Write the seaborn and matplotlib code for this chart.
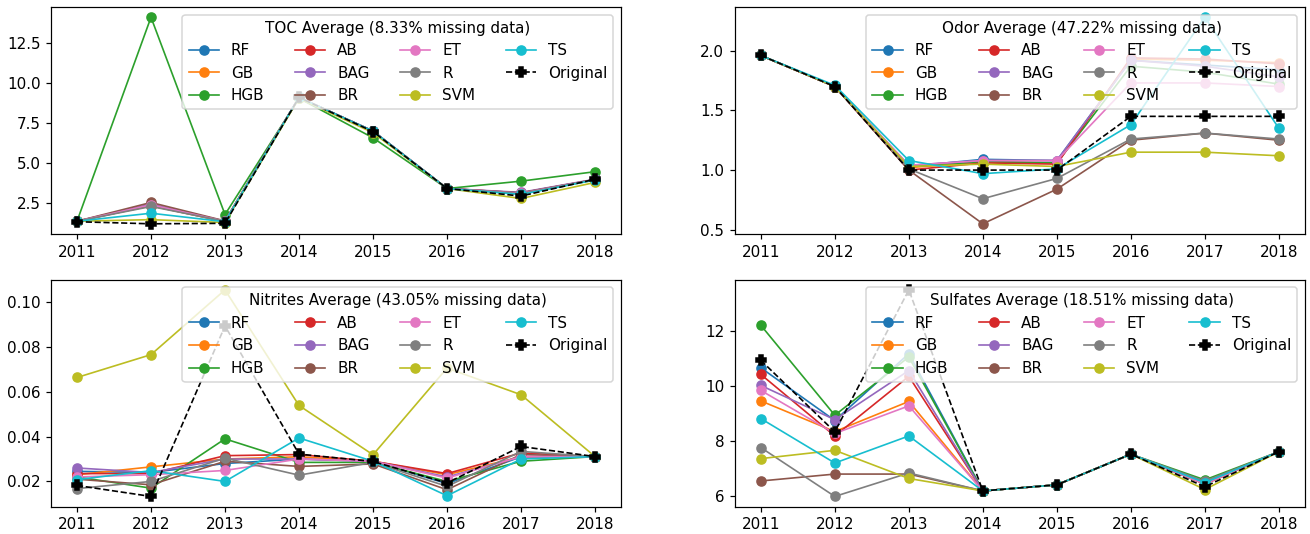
import matplotlib
matplotlib.use("Agg")
import matplotlib.pyplot as plt
from matplotlib.ticker import MultipleLocator
import seaborn as sns

years = [2011, 2012, 2013, 2014, 2015, 2016, 2017, 2018]
models = ["RF", "GB", "HGB", "AB", "BAG", "BR", "ET", "R", "SVM", "TS"]
palette = sns.color_palette("tab10", 10)

# TOC averages per imputation model
toc_rf = [1.38, 2.35, 1.35, 9.10, 7.00, 3.42, 3.12, 3.98]
toc_gb = [1.38, 2.35, 1.35, 9.10, 6.95, 3.42, 3.10, 3.95]
toc_hgb = [1.38, 14.10, 1.80, 9.05, 6.58, 3.42, 3.88, 4.47]
toc_ab = [1.38, 2.40, 1.38, 9.10, 7.00, 3.42, 3.15, 3.98]
toc_bag = [1.38, 2.45, 1.38, 9.10, 7.00, 3.42, 3.18, 4.00]
toc_br = [1.38, 2.55, 1.40, 9.10, 7.00, 3.42, 3.15, 3.98]
toc_et = [1.38, 2.40, 1.38, 9.10, 7.00, 3.42, 3.12, 3.98]
toc_r = [1.38, 2.30, 1.38, 9.10, 7.00, 3.42, 3.10, 3.98]
toc_svm = [1.38, 1.48, 1.30, 9.05, 6.90, 3.42, 2.80, 3.80]
toc_ts = [1.38, 1.88, 1.35, 9.10, 7.00, 3.42, 3.05, 3.95]
toc_orig = [1.35, 1.22, 1.25, 9.10, 6.97, 3.42, 2.95, 4.00]

# Odor averages
odor_rf = [1.96, 1.70, 1.03, 1.09, 1.08, 1.92, 1.88, 1.84]
odor_gb = [1.96, 1.70, 1.02, 1.07, 1.06, 1.93, 1.92, 1.90]
odor_hgb = [1.96, 1.70, 1.03, 1.07, 1.06, 1.87, 1.82, 1.72]
odor_ab = [1.96, 1.70, 1.00, 1.06, 1.05, 1.94, 1.93, 1.89]
odor_bag = [1.96, 1.70, 1.04, 1.08, 1.08, 1.92, 1.87, 1.78]
odor_br = [1.96, 1.70, 1.00, 0.55, 0.84, 1.25, 1.31, 1.25]
odor_et = [1.96, 1.70, 1.04, 1.08, 1.08, 1.73, 1.73, 1.70]
odor_r = [1.96, 1.70, 1.01, 0.76, 0.93, 1.26, 1.31, 1.26]
odor_svm = [1.96, 1.70, 1.03, 1.05, 1.03, 1.15, 1.15, 1.12]
odor_ts = [1.96, 1.71, 1.08, 0.97, 1.01, 1.38, 2.28, 1.35]
odor_orig = [1.96, 1.70, 1.00, 1.00, 1.00, 1.45, 1.45, 1.45]

# Nitrites averages
nit_rf = [0.0245, 0.0240, 0.0280, 0.0300, 0.0290, 0.0190, 0.0310, 0.0311]
nit_gb = [0.0230, 0.0265, 0.0300, 0.0310, 0.0290, 0.0230, 0.0310, 0.0311]
nit_hgb = [0.0220, 0.0170, 0.0390, 0.0285, 0.0285, 0.0200, 0.0290, 0.0311]
nit_ab = [0.0235, 0.0235, 0.0315, 0.0320, 0.0290, 0.0235, 0.0327, 0.0311]
nit_bag = [0.0260, 0.0240, 0.0300, 0.0300, 0.0290, 0.0220, 0.0310, 0.0311]
nit_br = [0.0210, 0.0185, 0.0290, 0.0267, 0.0278, 0.0163, 0.0320, 0.0311]
nit_et = [0.0220, 0.0230, 0.0249, 0.0300, 0.0290, 0.0215, 0.0311, 0.0311]
nit_r = [0.0168, 0.0200, 0.0304, 0.0228, 0.0285, 0.0178, 0.0334, 0.0311]
nit_svm = [0.0664, 0.0766, 0.1055, 0.0539, 0.0319, 0.0706, 0.0587, 0.0311]
nit_ts = [0.0208, 0.0248, 0.0200, 0.0394, 0.0290, 0.0136, 0.0300, 0.0311]
nit_orig = [0.0182, 0.0133, 0.0894, 0.0322, 0.0289, 0.0193, 0.0356, 0.0311]

# Sulfates averages
sul_rf = [10.66, 8.75, 11.17, 6.20, 6.42, 7.53, 6.45, 7.62]
sul_gb = [9.46, 8.35, 9.44, 6.20, 6.42, 7.53, 6.45, 7.62]
sul_hgb = [12.20, 8.94, 11.05, 6.20, 6.42, 7.53, 6.60, 7.62]
sul_ab = [10.42, 8.19, 10.35, 6.20, 6.42, 7.53, 6.45, 7.62]
sul_bag = [10.02, 8.78, 10.56, 6.20, 6.42, 7.53, 6.48, 7.62]
sul_br = [6.56, 6.81, 6.81, 6.20, 6.42, 7.53, 6.50, 7.62]
sul_et = [9.84, 8.28, 9.28, 6.20, 6.42, 7.53, 6.45, 7.62]
sul_r = [7.77, 6.00, 6.85, 6.20, 6.42, 7.53, 6.55, 7.62]
sul_svm = [7.37, 7.67, 6.65, 6.20, 6.42, 7.53, 6.25, 7.62]
sul_ts = [8.82, 7.21, 8.19, 6.20, 6.42, 7.53, 6.50, 7.62]
sul_orig = [10.93, 8.34, 13.48, 6.20, 6.42, 7.53, 6.35, 7.62]

panels = [
    ("TOC Average (8.33% missing data)",
     [toc_rf, toc_gb, toc_hgb, toc_ab, toc_bag, toc_br, toc_et, toc_r, toc_svm, toc_ts],
     toc_orig, 2.5),
    ("Odor Average (47.22% missing data)",
     [odor_rf, odor_gb, odor_hgb, odor_ab, odor_bag, odor_br, odor_et, odor_r, odor_svm, odor_ts],
     odor_orig, 0.5),
    ("Nitrites Average (43.05% missing data)",
     [nit_rf, nit_gb, nit_hgb, nit_ab, nit_bag, nit_br, nit_et, nit_r, nit_svm, nit_ts],
     nit_orig, 0.02),
    ("Sulfates Average (18.51% missing data)",
     [sul_rf, sul_gb, sul_hgb, sul_ab, sul_bag, sul_br, sul_et, sul_r, sul_svm, sul_ts],
     sul_orig, 2),
]

DPI = 109
fig, axes = plt.subplots(2, 2, figsize=(1310 / DPI, 534 / DPI), dpi=DPI)
fig.subplots_adjust(left=0.039, right=0.996, top=0.987, bottom=0.051,
                    wspace=0.2, hspace=0.2)

for ax, (title, series, original, ystep) in zip(axes.flat, panels):
    for name, vals, col in zip(models, series, palette):
        sns.lineplot(x=years, y=vals, ax=ax, color=col, marker="o",
                     markersize=6, markeredgecolor=col, markeredgewidth=1,
                     linewidth=1.1, label=name, legend=False)
    sns.lineplot(x=years, y=original, ax=ax, color="black", marker="P",
                 markersize=6.5, markeredgecolor="black", markeredgewidth=1,
                 linestyle="--", linewidth=1.1, label="Original", legend=False)
    ax.set_xticks(years)
    ax.yaxis.set_major_locator(MultipleLocator(ystep))
    ax.set_xlabel("")
    ax.set_ylabel("")
    ax.legend(title=title, ncol=4, loc="upper right", fontsize=10,
              title_fontsize=10)

fig.savefig("out.png", dpi=DPI)
